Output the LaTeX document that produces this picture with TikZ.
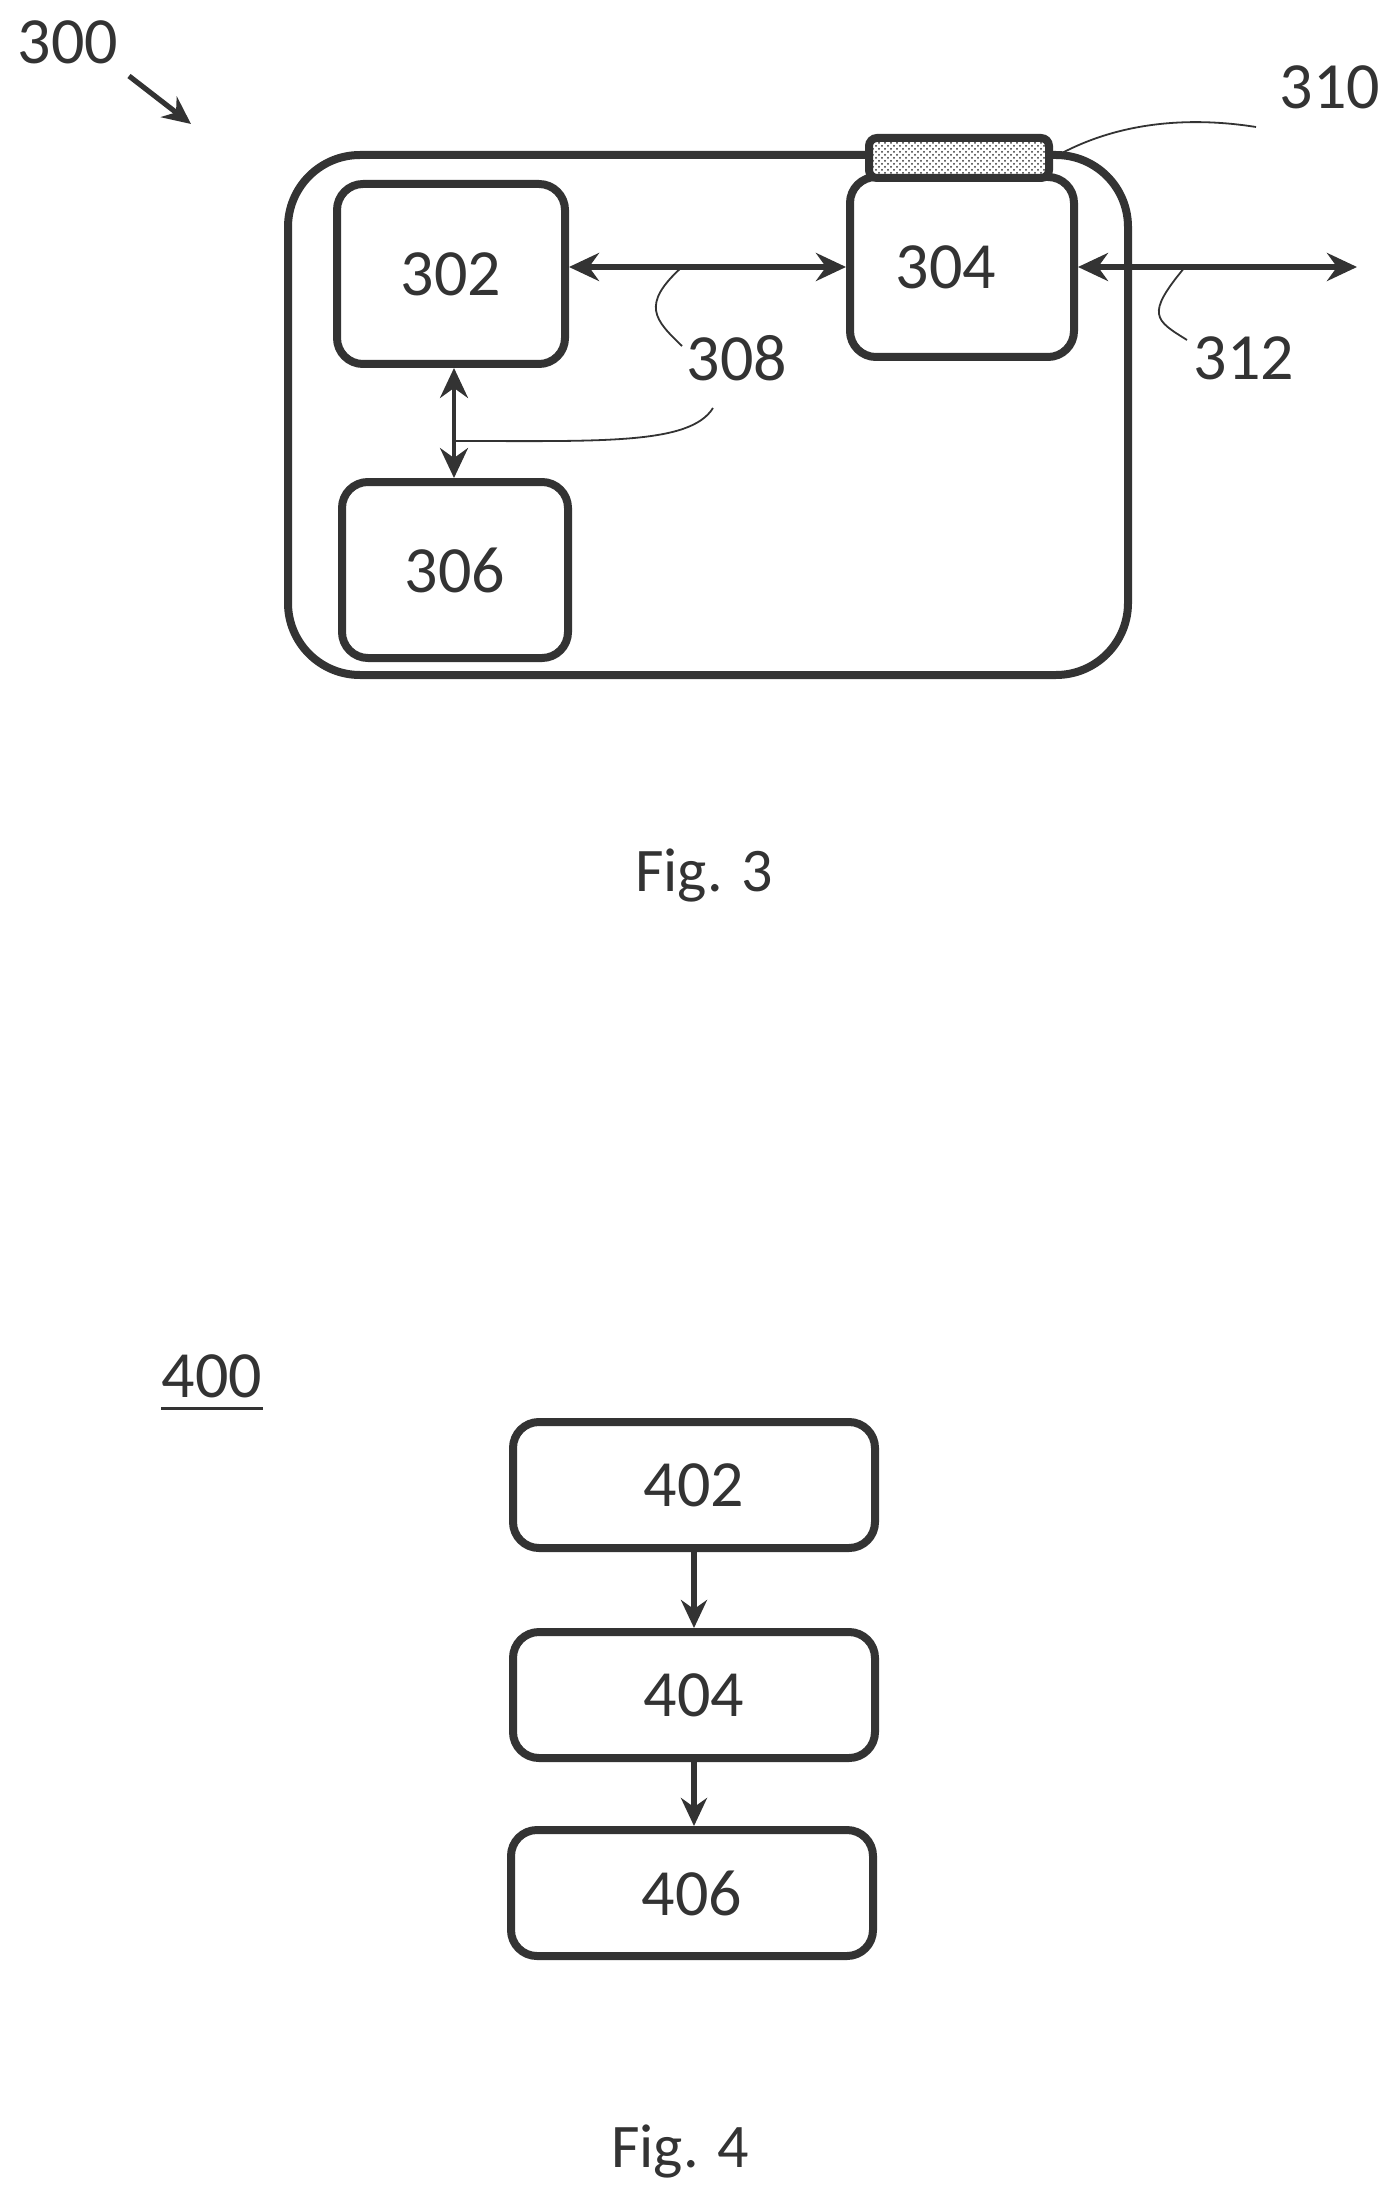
\documentclass[tikz,border=0pt]{standalone}
\usepackage{fontspec}
\setmainfont{Carlito}
\usepackage{tikz}
\usetikzlibrary{arrows.meta,patterns}

\definecolor{ink}{gray}{0.2}
\tikzset{
    numlabel/.style={font={\fontsize{33}{36}\selectfont}, text=ink, inner sep=0pt},
    figlabel/.style={font={\fontsize{31}{36}\selectfont}, text=ink, inner sep=0pt},
    unit/.style={draw=ink, line width=4pt, rounded corners=13pt, inner sep=0pt, font={\fontsize{33}{36}\selectfont}, text=ink},
    link/.style={draw=ink, line width=2.6pt, {Stealth[length=15pt,width=14pt,inset=5pt]}-{Stealth[length=15pt,width=14pt,inset=5pt]}},
    flow/.style={draw=ink, line width=3pt, -{Stealth[length=14pt,width=13pt]}},
    leader/.style={draw=ink, line width=0.9pt}
}

\begin{document}
\begin{tikzpicture}[x=0.5pt,y=-0.5pt]
    \useasboundingbox (0,0) rectangle (1399,2204);

    % figure 3
    \node[draw=ink, line width=4pt, rounded corners=36pt, inner sep=0pt, minimum width=420pt, minimum height=260pt] (housing) at (708,415) {};
    \node[unit, minimum width=114pt, minimum height=90pt] (b302) at (451,274) {302};
    \node[unit, minimum width=112pt, minimum height=90pt] (b304) at (962,267) {};
    \node[unit, minimum width=113pt, minimum height=88pt] (b306) at (455,570) {306};
    \node[draw=ink, line width=4pt, rounded corners=4pt, fill=white, inner sep=0pt, minimum width=90pt, minimum height=20pt] (b310) at (959,158) {};
    \node[inner sep=0pt, pattern=crosshatch dots, pattern color=ink, minimum width=86pt, minimum height=16pt] (p310) at (b310) {};

    \node[numlabel] (t304) at (946,267) {304};
    \node[numlabel] (t300) at (68,42) {300};
    \node[numlabel] (t310) at (1330,87) {310};
    \node[numlabel] (t308) at (737,358) {308};
    \node[numlabel] (t312) at (1244,358) {312};
    \node[figlabel] (fig3) at (704,875) {Fig. 3};

    \coordinate (start300) at (129,76);
    \coordinate (end300) at (191,124);
    \coordinate (out312) at (1357,267);
    \coordinate (m308a) at (682,267);
    \coordinate (m308b) at (454,441);
    \coordinate (m312) at (1185,267);

    \draw[flow, line width=2.6pt] (start300) -- (end300);
    \draw[link] (b302.east |- b304) -- (b304.west);
    \draw[link] (b304.east) -- (out312);
    \draw[link, line width=2pt] (b302.south -| m308b) -- (b306.north -| m308b);

    \draw[leader] (m308a) .. controls (640,305) and (655,320) .. (682,346);
    \draw[leader] (m308b) .. controls (600,441) and (690,445) .. (713,408);
    \draw[leader] (m312) .. controls (1145,315) and (1155,320) .. (1187,340);
    \draw[leader] (b310.east) .. controls (1110,125) and (1180,115) .. (1256,127);

    % figure 4
    \node[numlabel] (t400) at (212,1376) {400};
    \draw[leader, line width=1.5pt] (t400.south west |- 0,1408) coordinate (u400a) -- (t400.south east |- 0,1408) coordinate (u400b);

    \node[unit, minimum width=181pt, minimum height=63pt] (b402) at (694,1485) {402};
    \node[unit, minimum width=181pt, minimum height=63pt] (b404) at (694,1695) {404};
    \node[unit, minimum width=181pt, minimum height=63pt] (b406) at (692,1893) {406};
    \node[figlabel] (fig4) at (680,2151) {Fig. 4};

    \draw[flow] (b402.south) -- (b404.north);
    \draw[flow] (b404.south) -- (b404.south |- b406.north);
\end{tikzpicture}
\end{document}
